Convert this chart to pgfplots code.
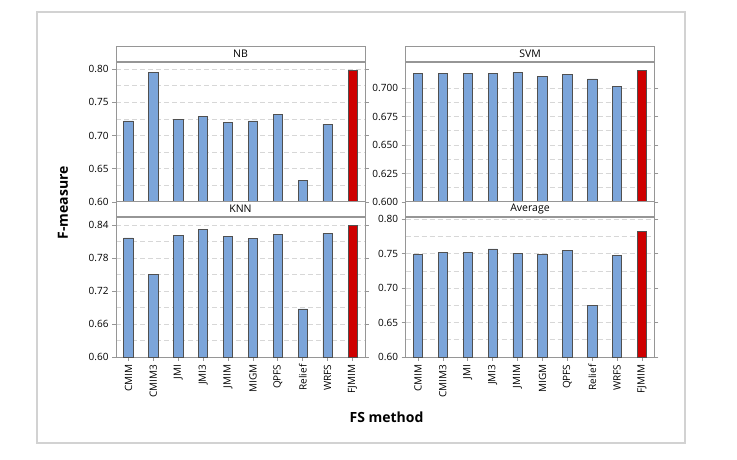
\documentclass[border=0pt]{standalone}
\usepackage{pgfplots}
\pgfplotsset{compat=1.18}
\usepackage{fontspec}
\setmainfont{Open Sans}
\definecolor{barblue}{RGB}{124,165,218}
\definecolor{barred}{RGB}{206,0,0}
\definecolor{baredge}{RGB}{80,80,80}
\definecolor{framegray}{RGB}{150,150,150}
\definecolor{gridgray}{RGB}{215,215,215}
\definecolor{outergray}{RGB}{210,210,210}
\pgfplotsset{
  panel/.style={
    scale only axis, width=249pt, height=140pt,
    anchor=south west,
    xmin=-0.5, xmax=9.5,
    axis line style={framegray, line width=0.9pt},
    tick style={framegray, line width=0.7pt},
    tick align=outside,
    major tick length=4pt,
    minor tick length=0pt,
    ymajorgrids, yminorgrids, minor y tick num=1,
    major grid style={gridgray, dashed, dash pattern=on 5pt off 3pt, line width=0.6pt},
    minor grid style={gridgray, dashed, dash pattern=on 5pt off 3pt, line width=0.6pt},
    ticklabel style={font=\fontsize{10}{12}\selectfont, text=black},
    /pgf/number format/assume math mode=true,
    /pgf/number format/fixed, /pgf/number format/fixed zerofill,
    /pgf/number format/precision=2,
    xtick={0,...,9},
    ybar, bar width=9.3pt,
    clip=false,
  },
  toppanel/.style={panel, xticklabels={}, xtick style={draw=none}},
  botpanel/.style={panel,
    xticklabels={CMIM,CMIM3,JMI,JMI3,JMIM,MIGM,QPFS,Relief,WRFS,FJMIM},
    xticklabel style={rotate=90, anchor=east, font=\fontsize{10}{12}\selectfont},
  },
  blue bars/.style={fill=barblue, draw=baredge, line width=0.7pt, bar shift=0pt},
  red bars/.style={fill=barred, draw=baredge, line width=0.7pt, bar shift=0pt},
}
\newcommand{\header}[1]{\node[draw=framegray, line width=0.9pt, fill=white, minimum width=249pt, minimum height=15pt, inner sep=0pt, anchor=south, font=\fontsize{10.5}{12}\selectfont] at (rel axis cs:0.5,1) {#1};}
\begin{document}
\begin{tikzpicture}
\path (0pt,0pt) rectangle (737pt,460pt);
\draw[outergray, line width=1.1pt] (37pt,17pt) rectangle (685pt,448pt);

% NB
\begin{axis}[toppanel, at={(116pt,258pt)}, ymin=0.6, ymax=0.8105, ytick={0.60,0.65,0.70,0.75,0.80}]
\addplot[blue bars] coordinates {(0,0.722) (1,0.795) (2,0.724) (3,0.729) (4,0.719) (5,0.722) (6,0.732) (7,0.632) (8,0.717)};
\addplot[red bars] coordinates {(9,0.798)};
\header{NB}
\end{axis}

% SVM
\begin{axis}[toppanel, at={(405.5pt,258pt)}, ymin=0.6, ymax=0.7228, ytick={0.600,0.625,0.650,0.675,0.700}, /pgf/number format/precision=3]
\addplot[blue bars] coordinates {(0,0.7129) (1,0.7129) (2,0.7129) (3,0.7129) (4,0.7137) (5,0.7100) (6,0.7120) (7,0.7080) (8,0.7010)};
\addplot[red bars] coordinates {(9,0.7158)};
\header{SVM}
\end{axis}

% KNN
\begin{axis}[botpanel, at={(116pt,103pt)}, ymin=0.6, ymax=0.855, ytick={0.60,0.66,0.72,0.78,0.84}]
\addplot[blue bars] coordinates {(0,0.817) (1,0.751) (2,0.821) (3,0.833) (4,0.819) (5,0.8166) (6,0.823) (7,0.6875) (8,0.825)};
\addplot[red bars] coordinates {(9,0.8394)};
\header{KNN}
\end{axis}

% Average
\begin{axis}[botpanel, at={(405.5pt,103pt)}, ymin=0.6, ymax=0.8033, ytick={0.60,0.65,0.70,0.75,0.80}]
\addplot[blue bars] coordinates {(0,0.749) (1,0.752) (2,0.752) (3,0.757) (4,0.7506) (5,0.749) (6,0.755) (7,0.675) (8,0.747)};
\addplot[red bars] coordinates {(9,0.783)};
\header{Average}
\end{axis}

\node[rotate=90, font=\bfseries\fontsize{14}{16}\selectfont] at (63pt,257pt) {F-measure};
\node[font=\bfseries\fontsize{14}{16}\selectfont] at (386.5pt,43pt) {FS method};
\end{tikzpicture}
\end{document}
